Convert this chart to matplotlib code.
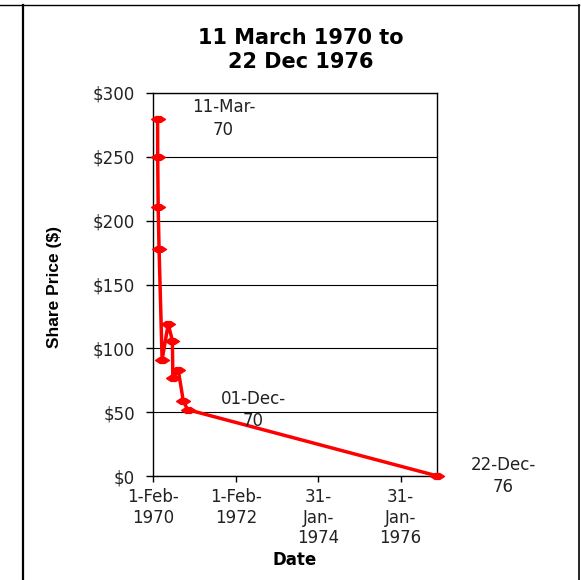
import matplotlib
matplotlib.use("Agg")
import matplotlib.pyplot as plt
from matplotlib.lines import Line2D
import datetime as dt

# ---- data ----
dates = ["1970-03-11", "1970-03-12", "1970-03-16", "1970-03-24", "1970-04-20",
         "1970-06-13", "1970-07-20", "1970-07-24", "1970-09-10", "1970-10-24",
         "1970-12-01", "1976-12-22"]
prices = [280, 250, 211, 178, 91, 119, 106, 77, 83, 59, 52, 0]

tick_dates = ["1970-02-01", "1972-02-01", "1974-01-31", "1976-01-31"]
tick_labels = ["1-Feb-\n1970", "1-Feb-\n1972", "31-\nJan-\n1974", "31-\nJan-\n1976"]

y_ticks = [0, 50, 100, 150, 200, 250, 300]
y_labels = ["$0", "$50", "$100", "$150", "$200", "$250", "$300"]

point_labels = {0: "11-Mar-\n70", 10: "01-Dec-\n70", 11: "22-Dec-\n76"}

title = "11 March 1970 to\n22 Dec 1976"

# ---- figure ----
W, H = 581, 580
fig = plt.figure(figsize=(W / 100, H / 100), dpi=100)
fig.patch.set_facecolor("white")

x0, x1, yt, yb = 153.3, 436.7, 93, 476
ax = fig.add_axes([x0 / W, 1 - yb / H, (x1 - x0) / W, (yb - yt) / H])

xd = [dt.datetime.strptime(d, "%Y-%m-%d") for d in dates]
xt = [dt.datetime.strptime(d, "%Y-%m-%d") for d in tick_dates]

marker = [(-1, 0), (-0.35, 0.42), (0.35, 0.42), (1, 0), (0.35, -0.42), (-0.35, -0.42), (-1, 0)]
ax.plot(xd, prices, color="#FF0000", lw=2.5, marker=marker, markersize=10,
        markerfacecolor="#FF0000", markeredgecolor="#FF0000", clip_on=False, zorder=3)

ax.set_xlim(dt.datetime(1970, 2, 1), dt.datetime(1976, 12, 15))
ax.set_ylim(0, 300)

ax.set_xticks(xt)
ax.set_xticklabels(tick_labels, fontsize=12, color="#222222", linespacing=1.15)
ax.set_yticks(y_ticks)
ax.set_yticklabels(y_labels, fontsize=12, color="#222222")

ax.tick_params(axis="x", direction="out", length=4, width=1, pad=5, color="black")
ax.tick_params(axis="y", direction="out", length=5, width=1, pad=8, color="black")

ax.grid(axis="y", color="black", lw=0.8)
ax.set_axisbelow(True)
for s in ax.spines.values():
    s.set_color("black")
    s.set_linewidth(1.0)

for i, txt in point_labels.items():
    ax.annotate(txt, (xd[i], prices[i]), xytext=(66, 0), textcoords="offset pixels",
                ha="center", va="center", fontsize=12, color="#222222",
                multialignment="center", linespacing=1.3, annotation_clip=False)

ax.set_xlabel("Date", fontsize=12, fontweight="bold", color="black")
ax.xaxis.set_label_coords(295 / W, 1 - 560 / H, transform=fig.transFigure)
ax.xaxis.label.set_va("center")

ax.set_ylabel("Share Price ($)", fontsize=12.5, fontweight="bold", color="black",
              family=["Liberation Sans", "DejaVu Sans"])
ax.yaxis.set_label_coords(55 / W, 1 - 287 / H, transform=fig.transFigure)
ax.yaxis.label.set_va("center")

fig.text(301 / W, 1 - 50 / H, title, ha="center", va="center", fontsize=15,
         fontweight="bold", color="black", linespacing=1.3)

# outer frame lines
fig.add_artist(Line2D([0, 579 / W], [1 - 5 / H, 1 - 5 / H], transform=fig.transFigure,
                      color="black", lw=1.0))
fig.add_artist(Line2D([22.5 / W, 22.5 / W], [0, 1 - 5 / H], transform=fig.transFigure,
                      color="black", lw=1.6))
fig.add_artist(Line2D([579 / W, 579 / W], [0, 1 - 5 / H], transform=fig.transFigure,
                      color="black", lw=1.2))

fig.savefig("out.png", dpi=100, facecolor="white")
